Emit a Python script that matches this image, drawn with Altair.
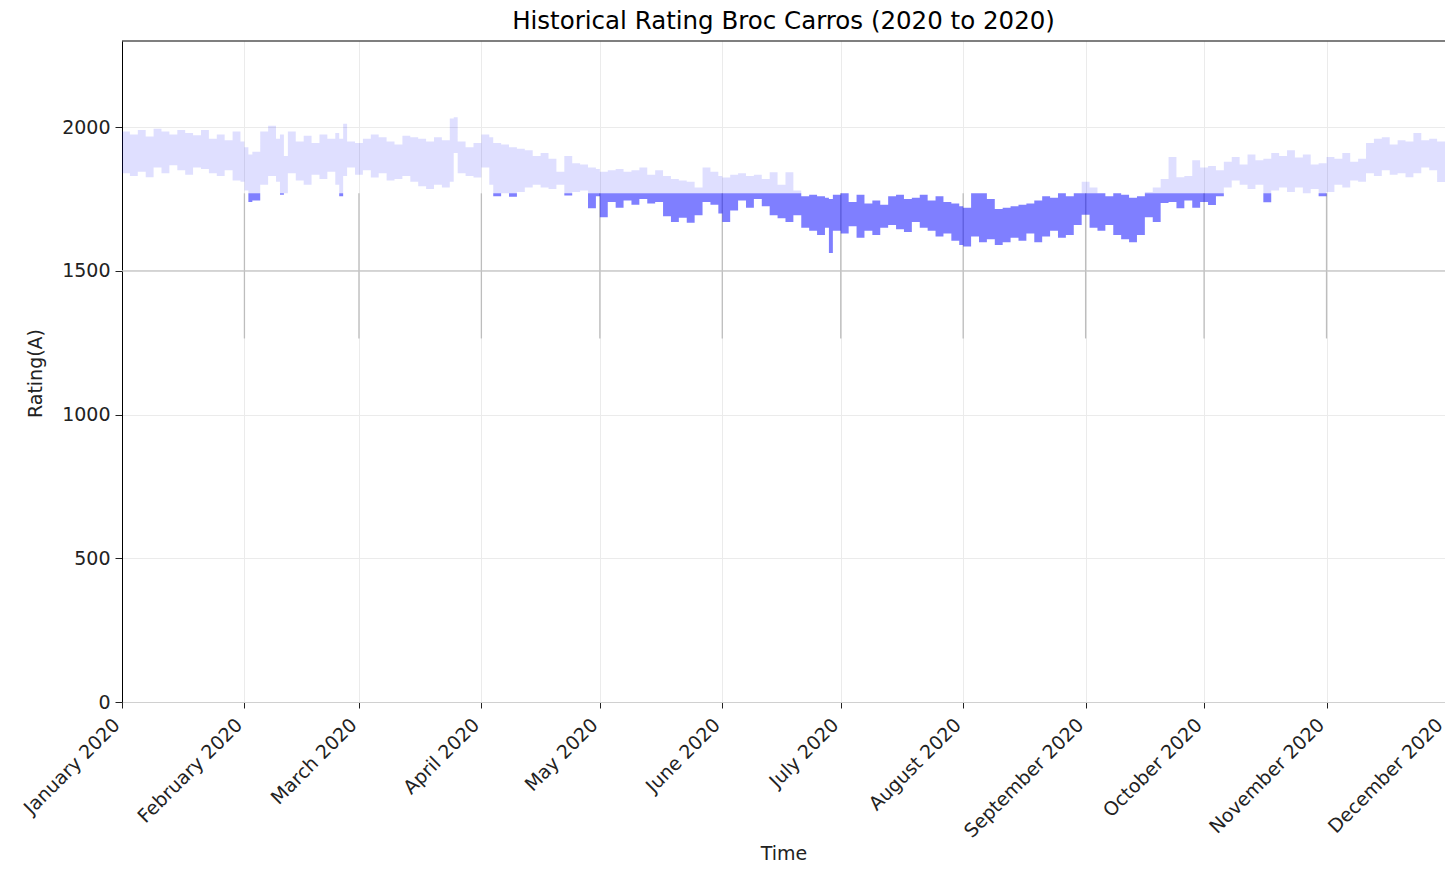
import altair as alt
import pandas as pd

# ---- data (day offset from 2020-01-01, band low, band high) ----
days = [0, 2, 4, 6, 8, 10, 12, 14, 16, 18, 20, 22, 24, 26, 28, 30, 31, 32, 33, 35, 37, 39, 40, 41,
        42, 44, 46, 48, 50, 52, 54, 55, 56, 57, 59, 61, 63, 65, 67, 69, 71, 73, 75, 77, 79, 81, 83,
        84, 85, 87, 89, 91, 93, 94, 96, 98, 100, 102, 104, 106, 108, 110, 112, 114, 116, 118, 120,
        121, 123, 125, 127, 129, 131, 133, 135, 137, 139, 141, 143, 145, 147, 149, 151, 152, 154,
        156, 158, 160, 162, 164, 166, 168, 170, 172, 174, 176, 178, 179, 180, 182, 184, 186, 188,
        190, 192, 194, 196, 198, 200, 202, 204, 206, 208, 210, 212, 213, 215, 217, 219, 221, 223,
        225, 227, 229, 231, 233, 235, 237, 239, 241, 243, 245, 247, 249, 251, 253, 255, 257, 259,
        261, 263, 265, 267, 269, 271, 273, 275, 277, 279, 281, 283, 285, 287, 289, 291, 293, 295,
        297, 299, 301, 303, 305, 307, 309, 311, 313, 315, 317, 319, 321, 323, 325, 327, 329, 331,
        333, 335]
lows = [1840, 1830, 1845, 1826, 1860, 1840, 1868, 1850, 1835, 1860, 1855, 1840, 1830, 1850, 1815,
        1810, 1780, 1740, 1745, 1800, 1830, 1810, 1765, 1770, 1840, 1815, 1800, 1835, 1820, 1845,
        1800, 1760, 1830, 1860, 1835, 1850, 1825, 1840, 1815, 1820, 1830, 1810, 1795, 1785, 1800,
        1790, 1810, 1910, 1840, 1830, 1825, 1860, 1800, 1760, 1770, 1758, 1775, 1790, 1800, 1790,
        1785, 1800, 1762, 1775, 1780, 1718, 1760, 1687, 1740, 1720, 1745, 1730, 1750, 1735, 1740,
        1690, 1670, 1685, 1668, 1694, 1740, 1730, 1700, 1670, 1710, 1745, 1720, 1750, 1725, 1694,
        1683, 1670, 1694, 1650, 1640, 1625, 1650, 1562, 1640, 1630, 1655, 1615, 1640, 1625, 1650,
        1660, 1645, 1635, 1670, 1650, 1640, 1620, 1630, 1605, 1590, 1585, 1620, 1600, 1610, 1590,
        1600, 1615, 1605, 1630, 1600, 1620, 1640, 1615, 1625, 1660, 1695, 1650, 1640, 1660, 1625,
        1610, 1600, 1625, 1687, 1670, 1736, 1740, 1718, 1745, 1720, 1740, 1729, 1760, 1790, 1815,
        1800, 1785, 1800, 1739, 1780, 1790, 1775, 1790, 1770, 1785, 1760, 1775, 1800, 1790, 1815,
        1810, 1840, 1830, 1850, 1835, 1840, 1826, 1840, 1860, 1850, 1809, 1820]
highs = [1985, 1975, 1990, 1968, 1995, 1985, 1975, 1990, 1980, 1972, 1990, 1960, 1975, 1955, 1985,
         1950, 1930, 1905, 1915, 1985, 2005, 1960, 1975, 1900, 1985, 1950, 1970, 1945, 1975, 1960,
         1980, 1960, 2012, 1950, 1945, 1960, 1975, 1965, 1950, 1940, 1970, 1965, 1960, 1950, 1965,
         1955, 2030, 2035, 1950, 1930, 1945, 1975, 1965, 1945, 1940, 1930, 1925, 1920, 1900, 1910,
         1890, 1845, 1900, 1875, 1870, 1860, 1855, 1845, 1850, 1855, 1845, 1850, 1860, 1835, 1850,
         1830, 1820, 1815, 1810, 1790, 1860, 1845, 1830, 1825, 1835, 1840, 1830, 1835, 1820, 1843,
         1800, 1843, 1780, 1760, 1765, 1760, 1755, 1750, 1765, 1770, 1740, 1765, 1735, 1745, 1730,
         1760, 1765, 1750, 1755, 1765, 1745, 1760, 1740, 1735, 1725, 1720, 1770, 1770, 1750, 1715,
         1720, 1725, 1730, 1735, 1745, 1760, 1755, 1770, 1760, 1770, 1810, 1790, 1770, 1760, 1770,
         1765, 1755, 1760, 1775, 1790, 1820, 1896, 1826, 1830, 1885, 1860, 1865, 1850, 1880, 1896,
         1870, 1905, 1885, 1890, 1910, 1900, 1920, 1895, 1905, 1870, 1875, 1896, 1890, 1910, 1880,
         1890, 1945, 1960, 1965, 1940, 1955, 1950, 1980, 1955, 1960, 1950, 1945]

THRESHOLD = 1770
month_numbers = [1, 2, 3, 4, 5, 6, 7, 8, 9, 10, 11, 12]
marker_months = [2, 3, 4, 5, 6, 7, 8, 9, 10, 11]
y_ticks = [0, 500, 1000, 1500, 2000]
marker_low, marker_high = 1265, 1770

df = pd.DataFrame({
    "date": pd.Timestamp("2020-01-01") + pd.to_timedelta(days, unit="D"),
    "low": lows,
    "high": highs,
})
df["light_lo"] = df["low"].clip(lower=THRESHOLD)
df["light_hi"] = df["high"].clip(lower=THRESHOLD)
df["dark_lo"] = df["low"].clip(upper=THRESHOLD)
df["dark_hi"] = df["high"].clip(upper=THRESHOLD)

months_df = pd.DataFrame({
    "date": [pd.Timestamp(2020, m, 1) for m in marker_months],
    "lo": marker_low,
    "hi": marker_high,
})

FONT = "DejaVu Sans"
TXT = "#222222"
x_domain = [alt.DateTime(year=2020, month=1, date=1), alt.DateTime(year=2020, month=12, date=1)]
x_values = [alt.DateTime(year=2020, month=m, date=1) for m in month_numbers]

x_enc = alt.X(
    "date:T",
    title="Time",
    scale=alt.Scale(domain=x_domain),
    axis=alt.Axis(
        values=x_values, format="%B %Y", labelAngle=-45, labelAlign="right",
        labelBaseline="top", labelFontSize=19, labelColor=TXT,
        labelPadding=7, labelOffset=-12, tickSize=6, tickColor=TXT,
        domainColor="#d0d0d0", grid=True, gridColor="#ebebeb", titleFontSize=19,
        titleFontWeight="normal", titleColor=TXT, labelOverlap=False, labelFlush=False,
        titlePadding=3,
    ),
)
y_scale = alt.Scale(domain=[0, 2300], nice=False)
y_axis = alt.Axis(
    values=y_ticks, format="d", labelFontSize=19, labelColor=TXT, tickSize=7,
    labelPadding=5, tickColor=TXT, domainColor="#000000", grid=True, gridColor="#ebebeb",
    titleFontSize=19, titleFontWeight="normal", titleColor=TXT,
    titleX=-87, titleY=332, titleBaseline="middle", titleAlign="center",
)

base = alt.Chart(df)

light = base.mark_area(interpolate="step-after", color="#0000ff", opacity=0.125).encode(
    x=x_enc,
    y=alt.Y("light_lo:Q", scale=y_scale, axis=y_axis, title="Rating(A)"),
    y2="light_hi:Q",
)
dark = base.mark_area(interpolate="step-after", color="#0000ff", opacity=0.5).encode(
    x="date:T",
    y="dark_lo:Q",
    y2="dark_hi:Q",
)

vrules = alt.Chart(months_df).mark_rule(color="#bdbdbd", strokeWidth=1.3).encode(
    x="date:T", y="lo:Q", y2="hi:Q"
)
hrule = alt.Chart(pd.DataFrame({"v": [1500]})).mark_rule(color="#c4c4c4", strokeWidth=1.3).encode(
    y="v:Q"
)
top_border = alt.Chart(pd.DataFrame({"v": [2300]})).mark_rule(color="#000000", strokeWidth=1.2).encode(
    y="v:Q"
)

chart = alt.layer(vrules, hrule, light, dark, top_border).properties(
    width=1323,
    height=661,
    autosize=alt.AutoSizeParams(type="none"),
    padding={"left": 114, "top": 33, "right": 0, "bottom": 158},
    title=alt.TitleParams(
        "Historical Rating Broc Carros (2020 to 2020)", fontSize=24.5,
        fontWeight="normal", color="#000000", offset=6,
    ),
).configure(font=FONT).configure_view(stroke=None)

chart.save("out.html", embed_options={"renderer": "svg", "actions": False})
